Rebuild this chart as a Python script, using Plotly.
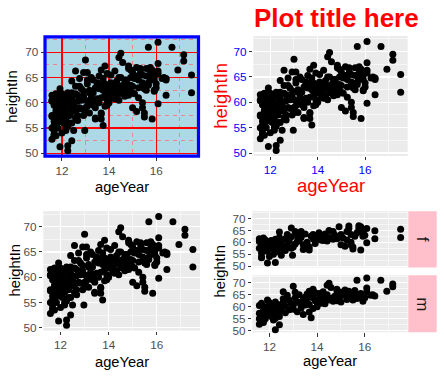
import plotly.graph_objects as go

# ---- data ----
f_age = [11.92, 12.92, 12.75, 13.42, 15.92, 14.25, 15.42, 11.83, 13.33, 11.67,
         11.58, 14.83, 13.08, 12.42, 11.92, 12.08, 15.92, 12.50, 12.25, 15.00,
         11.75, 11.67, 13.67, 14.67, 15.42, 15.83, 13.83, 12.58, 11.83, 12.25,
         12.97, 12.50, 12.42, 12.92, 17.50, 17.50, 16.42, 16.42, 15.83, 15.50,
         15.50, 15.42, 15.17, 15.00, 15.75, 14.92, 15.25, 15.33, 14.75, 14.50,
         14.33, 14.08, 14.17, 13.92, 13.75, 13.58, 13.50, 13.25, 13.17, 13.00,
         12.83, 12.67, 12.58, 12.33, 12.33, 12.17, 12.08, 12.00, 11.92, 11.83,
         11.75, 11.67, 11.58, 11.58, 12.17, 12.00, 12.25, 12.42, 12.75, 13.08,
         13.42, 13.67, 13.92, 14.00, 14.42, 14.58, 14.92, 15.08, 15.25, 15.58,
         15.67, 15.92, 16.00, 16.08, 15.33, 14.67, 14.25, 13.83, 13.17, 12.67,
         12.08, 11.83, 11.67, 12.92, 13.33, 14.50, 15.75, 16.08]
f_height = [56.3, 62.3, 63.3, 59.0, 62.5, 62.5, 59.0, 56.5, 62.0, 53.8,
            61.5, 61.5, 64.5, 58.3, 51.3, 58.8, 65.3, 59.5, 61.3, 63.3,
            61.8, 53.5, 58.0, 61.3, 63.3, 66.5, 61.5, 58.3, 56.3, 51.5,
            54.5, 54.5, 64.3, 66.0, 65.5, 62.0, 64.8, 61.5, 56.8, 57.2,
            58.0, 60.0, 58.3, 59.0, 67.0, 66.5, 64.5, 65.8, 63.0, 62.0,
            63.5, 64.0, 61.0, 60.5, 62.5, 60.0, 63.5, 61.0, 60.3, 58.0,
            60.5, 61.5, 57.0, 60.0, 56.0, 59.5, 57.5, 60.3, 59.0, 61.0,
            58.0, 55.5, 57.5, 60.3, 55.0, 54.0, 57.8, 62.0, 59.0, 59.3,
            57.0, 56.8, 59.5, 62.3, 60.5, 61.8, 62.3, 61.8, 61.0, 62.5,
            64.0, 64.5, 63.0, 59.8, 66.8, 64.5, 60.8, 63.3, 62.5, 56.5,
            60.8, 58.5, 59.5, 57.5, 64.5, 65.0, 65.8, 65.8]

m_age = [15.67, 16.08, 16.67, 17.17, 17.17, 16.92, 16.33, 16.42, 15.67, 14.50,
         14.42, 14.58, 14.83, 14.83, 13.83, 13.67, 13.92, 13.58, 12.25, 12.42,
         11.58, 11.75, 11.58, 11.67, 13.00, 12.58, 13.42, 13.67, 13.75, 11.92,
         16.08, 16.08, 16.00, 15.83, 15.58, 15.42, 15.33, 15.17, 15.08, 15.00,
         14.92, 14.75, 14.67, 14.58, 14.42, 14.33, 14.25, 14.17, 14.08, 14.00,
         13.92, 13.83, 13.75, 13.67, 13.58, 13.50, 13.42, 13.33, 13.25, 13.17,
         13.08, 13.00, 12.92, 12.83, 12.75, 12.67, 12.58, 12.50, 12.42, 12.33,
         12.25, 12.17, 12.08, 12.00, 11.92, 11.83, 11.75, 11.67, 11.58, 11.58,
         11.67, 11.75, 11.83, 11.92, 12.00, 12.08, 12.17, 12.25, 12.33, 12.42,
         12.50, 12.67, 12.83, 13.00, 13.17, 13.33, 13.50, 13.83, 14.00, 14.17,
         14.33, 14.50, 14.67, 14.83, 15.00, 15.25, 15.42, 15.50, 15.75, 15.92,
         16.25, 12.00, 11.83, 12.25, 12.58, 13.25, 13.58, 14.08, 14.92, 15.58,
         12.33, 11.75, 12.17, 13.08, 14.25, 15.17]
m_height = [71.0, 72.0, 71.0, 69.5, 68.3, 66.5, 65.0, 64.5, 63.5, 69.8,
            69.0, 68.0, 67.3, 66.8, 67.3, 66.5, 65.8, 65.3, 50.5, 52.5,
            55.0, 53.5, 52.8, 54.5, 68.5, 66.3, 56.8, 57.8, 55.5, 62.8,
            67.8, 66.3, 63.8, 65.5, 66.8, 65.5, 66.5, 67.0, 64.8, 66.0,
            63.5, 64.5, 62.3, 63.5, 65.0, 64.3, 63.0, 62.3, 65.5, 61.8,
            62.5, 63.8, 64.8, 61.0, 62.8, 64.0, 63.0, 60.3, 65.0, 62.0,
            63.8, 60.5, 61.3, 62.8, 64.8, 60.3, 61.8, 58.5, 60.8, 59.3,
            62.0, 58.3, 61.0, 59.5, 57.8, 60.0, 58.5, 61.5, 60.5, 57.3,
            56.3, 55.8, 55.0, 56.5, 57.3, 56.0, 57.0, 55.3, 57.5, 56.0,
            59.8, 57.5, 58.8, 59.0, 58.0, 59.5, 60.8, 59.3, 60.0, 61.5,
            61.3, 62.8, 63.8, 62.5, 62.0, 63.0, 64.0, 62.8, 64.5, 62.3,
            64.8, 61.8, 59.0, 59.8, 63.3, 61.8, 63.8, 63.3, 65.0, 65.3,
            61.0, 57.0, 54.5, 66.0, 66.3, 65.3]

x_ticks = [12, 14, 16]
y_ticks = [50, 55, 60, 65, 70]
sex_labels = ["f", "m"]

age_all = f_age + m_age
height_all = f_height + m_height


def expand(vals, mult=0.05):
    lo, hi = min(vals), max(vals)
    d = (hi - lo) * mult
    return [lo - d, hi + d]


xr = expand(age_all)
yr = expand(height_all)

W, H = 444, 380
FONT = "Liberation Sans, Arial, sans-serif"


def dx(a, b):
    return [a / W, b / W]


def dy(top, bottom):
    return [1 - bottom / H, 1 - top / H]


def px_x(p):
    return p / W


def px_y(p):
    return 1 - p / H


fig = go.Figure()

panels = [
    ("x", "y", age_all, height_all),
    ("x2", "y2", age_all, height_all),
    ("x3", "y3", age_all, height_all),
    ("x4", "y4", f_age, f_height),
    ("x5", "y5", m_age, m_height),
]
for xa, ya, xs, ys in panels:
    fig.add_trace(go.Scatter(
        x=xs, y=ys, xaxis=xa, yaxis=ya, mode="markers",
        marker=dict(color="black", size=7, line=dict(width=0)),
        showlegend=False, hoverinfo="skip", cliponaxis=False))


def axis(domain, anchor, ticks_vals, rng, grid_col, minor_col, minor_dash,
         tick_col, show_labels=True, minor_dtick=None, minor_tick0=None,
         gw=1.1, mw=0.55):
    return dict(
        domain=domain, anchor=anchor, range=rng, tickmode="array",
        tickvals=ticks_vals, ticktext=[str(v) for v in ticks_vals],
        showticklabels=show_labels, ticks="outside" if show_labels else "",
        ticklen=3.5, tickwidth=1, tickcolor="#333333",
        tickfont=dict(family=FONT, size=11.7, color=tick_col),
        showgrid=True, gridcolor=grid_col, gridwidth=gw,
        zeroline=False, showline=False,
        minor=dict(tickmode="linear", tick0=minor_tick0, dtick=minor_dtick,
                   showgrid=True, gridcolor=minor_col, gridwidth=mw,
                   griddash=minor_dash, ticks=""),
    )


GRAY_TXT = "#4D4D4D"
MINOR_RED = "#EE8888"
fig.update_layout(
    xaxis=axis(dx(45, 198.5), "y", x_ticks, xr, "red", MINOR_RED, "4px,4px",
               GRAY_TXT, minor_dtick=2, minor_tick0=13, gw=1.3, mw=1),
    yaxis=axis(dy(37.3, 158.3), "x", y_ticks, yr, "red", MINOR_RED, "4px,4px",
               GRAY_TXT, minor_dtick=5, minor_tick0=52.5, gw=1.3, mw=1),
    xaxis2=axis(dx(253.3, 407.7), "y2", x_ticks, xr, "white", "white", "solid",
                "blue", minor_dtick=2, minor_tick0=13),
    yaxis2=axis(dy(36.5, 158), "x2", y_ticks, yr, "white", "white", "solid",
                "blue", minor_dtick=5, minor_tick0=52.5),
    xaxis3=axis(dx(43.3, 200), "y3", x_ticks, xr, "white", "white", "solid",
                GRAY_TXT, minor_dtick=2, minor_tick0=13),
    yaxis3=axis(dy(214, 335), "x3", y_ticks, yr, "white", "white", "solid",
                GRAY_TXT, minor_dtick=5, minor_tick0=52.5),
    xaxis4=axis(dx(252.3, 407.7), "y4", x_ticks, xr, "white", "white", "solid",
                GRAY_TXT, show_labels=False, minor_dtick=2, minor_tick0=13),
    yaxis4=axis(dy(214, 271), "x4", y_ticks, yr, "white", "white", "solid",
                GRAY_TXT, minor_dtick=5, minor_tick0=52.5),
    xaxis5=axis(dx(252.3, 407.7), "y5", x_ticks, xr, "white", "white", "solid",
                GRAY_TXT, minor_dtick=2, minor_tick0=13),
    yaxis5=axis(dy(279, 336.7), "x5", y_ticks, yr, "white", "white", "solid",
                GRAY_TXT, minor_dtick=5, minor_tick0=52.5),
)

shapes = [
    dict(type="rect", xref="x domain", yref="y domain", x0=0, x1=1, y0=0, y1=1,
         fillcolor="lightblue", line=dict(width=0), layer="below"),
    dict(type="rect", xref="x domain", yref="y domain", x0=0, x1=1, y0=0, y1=1,
         fillcolor="rgba(0,0,0,0)", line=dict(color="blue", width=3.2), layer="above"),
]
strip_ranges = [(214, 271), (279, 336.7)]
for (t, b) in strip_ranges:
    shapes.append(dict(type="rect", xref="paper", yref="paper",
                       x0=px_x(408.3), x1=px_x(436.7), y0=px_y(b), y1=px_y(t),
                       fillcolor="pink", line=dict(width=0), layer="below"))

ann = []


def txt(text, x, y, size, color="black", angle=0, xanchor="center", bold=False):
    ann.append(dict(text=("<b>%s</b>" % text) if bold else text,
                    x=px_x(x), y=px_y(y), xref="paper", yref="paper",
                    showarrow=False, textangle=angle, xanchor=xanchor,
                    yanchor="middle",
                    font=dict(family=FONT, size=size, color=color)))


txt("ageYear", 121.7, 189.5, 14.7)
txt("heightIn", 12, 98, 14.7, angle=-90)
txt("Plot title here", 252, 18, 26, color="red", xanchor="left", bold=True)
txt("ageYear", 330.5, 188, 18.5, color="red")
txt("heightIn", 221, 97, 18.5, color="red", angle=-90)
txt("ageYear", 121.7, 366.5, 14.7)
txt("heightIn", 14.5, 274.5, 14.7, angle=-90)
txt("ageYear", 330, 365.5, 14.7)
txt("heightIn", 220, 275, 14.7, angle=-90)
for lab, (t, b) in zip(sex_labels, strip_ranges):
    txt(lab, 422.5, (t + b) / 2, 17, color="#1A1A1A", angle=90)

fig.update_layout(
    width=W, height=H, margin=dict(l=0, r=0, t=0, b=0),
    paper_bgcolor="white", plot_bgcolor="#EBEBEB",
    shapes=shapes, annotations=ann, showlegend=False,
    font=dict(family=FONT),
)

fig.write_html("out.html", config={"displayModeBar": False, "staticPlot": True},
               post_script="document.body.style.margin='0';document.body.style.padding='0';")
